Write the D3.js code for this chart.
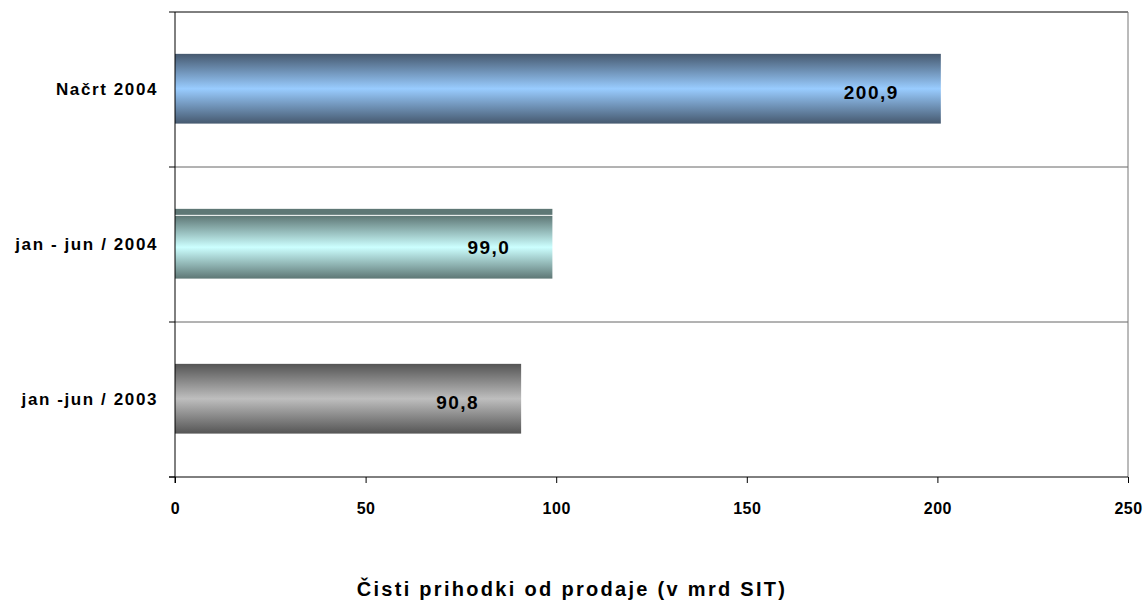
<!DOCTYPE html>
<html>
<head>
    <meta charset="utf-8">
    <style>
        body { margin: 0; background: white; overflow: hidden; }
        svg { display: block; }
        text { font-family: Arial, "Liberation Sans", sans-serif; font-weight: bold; fill: black; }
        .cat { font-size: 17px; letter-spacing: 1.6px; }
        .val { font-size: 19px; letter-spacing: 1.5px; }
        .title { font-size: 20px; letter-spacing: 2.3px; }
    </style>
    <script src="https://d3js.org/d3.v7.min.js"></script>
</head>
<body>
<script>
const categories = ["Načrt 2004", "jan - jun / 2004", "jan -jun / 2003"];
const values = [200.9, 99.0, 90.8];
const valueLabels = ["200,9", "99,0", "90,8"];
const xTicks = [0, 50, 100, 150, 200, 250];
const axisTitle = "Čisti prihodki od prodaje (v mrd SIT)";

const width = 1147, height = 600;
const plotLeft = 175, plotRight = 1128, plotTop = 12, plotBottom = 477;

const svg = d3.select("body").append("svg")
    .attr("width", width)
    .attr("height", height);

const x = d3.scaleLinear().domain([0, 250]).range([plotLeft, plotRight]);
const y = d3.scaleBand().domain(categories).range([plotTop, plotBottom]).padding(0);

// gradients, one per bar
const palettes = [
    ["#46596f", "#99ccff"],
    ["#5e7775", "#ccffff"],
    ["#555555", "#bebebe"]
];
const defs = svg.append("defs");
palettes.forEach((p, i) => {
    const g = defs.append("linearGradient")
        .attr("id", "grad" + i)
        .attr("x1", 0).attr("y1", 0).attr("x2", 0).attr("y2", 1);
    g.append("stop").attr("offset", "0%").attr("stop-color", p[0]);
    g.append("stop").attr("offset", "50%").attr("stop-color", p[1]);
    g.append("stop").attr("offset", "100%").attr("stop-color", p[0]);
});

// gridlines between categories
const bounds = [plotTop, ...categories.slice(1).map(c => y(c)), plotBottom];
svg.append("g").selectAll("line")
    .data(bounds.slice(1, -1))
    .join("line")
    .attr("x1", plotLeft).attr("x2", plotRight)
    .attr("y1", d => d).attr("y2", d => d)
    .attr("stroke", "#666").attr("stroke-width", 1);

// top border + right border
svg.append("line").attr("x1", plotLeft).attr("x2", plotRight).attr("y1", plotTop).attr("y2", plotTop)
    .attr("stroke", "#000");
svg.append("line").attr("x1", plotRight).attr("x2", plotRight).attr("y1", plotTop).attr("y2", plotBottom)
    .attr("stroke", "#777");

// bars
const bw = y.step();
const bars = svg.append("g");
categories.forEach((c, i) => {
    const by = y(c) + bw * 0.27;
    const bh = bw * 0.45;
    if (i === 1) {
        // the middle bar has a dark cap strip separated by a thin white line
        bars.append("rect")
            .attr("x", x(0)).attr("y", by)
            .attr("width", x(values[i]) - x(0)).attr("height", 6)
            .attr("fill", "#5e7775");
        bars.append("rect")
            .attr("x", x(0)).attr("y", by + 7)
            .attr("width", x(values[i]) - x(0)).attr("height", bh - 7)
            .attr("fill", "url(#grad" + i + ")");
    } else {
        bars.append("rect")
            .attr("x", x(0)).attr("y", by)
            .attr("width", x(values[i]) - x(0)).attr("height", bh)
            .attr("fill", "url(#grad" + i + ")");
    }
    bars.append("text")
        .attr("class", "val")
        .attr("x", x(values[i]) - 42)
        .attr("y", y(c) + bw / 2 + 3)
        .attr("dy", "0.35em")
        .attr("text-anchor", "end")
        .text(valueLabels[i]);
});

// y axis
svg.append("line").attr("x1", plotLeft).attr("x2", plotLeft).attr("y1", plotTop).attr("y2", plotBottom + 6)
    .attr("stroke", "#000");
svg.append("g").selectAll("line")
    .data(bounds)
    .join("line")
    .attr("x1", plotLeft - 6).attr("x2", plotLeft)
    .attr("y1", d => d).attr("y2", d => d)
    .attr("stroke", "#000");
svg.append("g").selectAll("text")
    .data(categories)
    .join("text")
    .attr("class", "cat")
    .attr("x", plotLeft - 17)
    .attr("y", d => y(d) + bw / 2)
    .attr("dy", "0.35em")
    .attr("text-anchor", "end")
    .text(d => d);

// x axis
const xAxis = svg.append("g")
    .attr("transform", `translate(0,${plotBottom})`)
    .call(d3.axisBottom(x).tickValues(xTicks).tickSize(6).tickPadding(20).tickFormat(d3.format("d")));
xAxis.select(".domain").attr("stroke", "#000").attr("d", `M${plotLeft - 6},0H${plotRight}`);
xAxis.selectAll(".tick line").attr("stroke", "#000");
xAxis.selectAll(".tick text")
    .style("font-family", "Arial, 'Liberation Sans', sans-serif")
    .style("font-weight", "bold")
    .style("font-size", "16px")
    .style("letter-spacing", "0.5px")
    .attr("fill", "#000");

svg.append("text")
    .attr("class", "title")
    .attr("x", 572)
    .attr("y", 596)
    .attr("text-anchor", "middle")
    .text(axisTitle);
</script>
</body>
</html>
